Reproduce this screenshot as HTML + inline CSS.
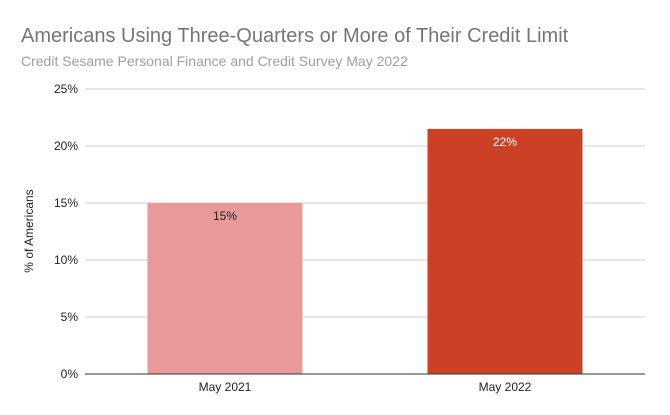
<!DOCTYPE html>
<html><head><meta charset="utf-8"><style>
body{margin:0;background:#fff;}
svg{display:block;font-family:"Liberation Sans",Arial,sans-serif;}
</style></head><body>
<svg id="chart" width="670" height="415">
<text x="21" y="42" font-size="20" fill="#757575">Americans Using Three-Quarters or More of Their Credit Limit</text>
<text x="21" y="66" font-size="14" fill="#9e9e9e">Credit Sesame Personal Finance and Credit Survey May 2022</text>
<text transform="translate(33,231) rotate(-90)" text-anchor="middle" font-size="12" fill="#222">% of Americans</text>
<g id="grid"></g><g id="bars"></g>
</svg>
<script>
const categories=["May 2021","May 2022"];
const values=[15,21.5];
const valueLabels=["15%","22%"];
const yTicks=[0,5,10,15,20,25];
const yTickLabels=["0%","5%","10%","15%","20%","25%"];
const colors=["#ea9999","#cc4125"];
const labelColors=["#222","#fff"];
const NS="http://www.w3.org/2000/svg";
const x0=85,x1=645,yb=374,yt=89,ymax=25;
const y=v=>yb-(v/ymax)*(yb-yt);
const band=(x1-x0)/categories.length;
const bw=155;
const grid=document.getElementById('grid'),bars=document.getElementById('bars');
function mk(t,a,p){const e=document.createElementNS(NS,t);for(const k in a)e.setAttribute(k,a[k]);p.appendChild(e);return e;}
yTicks.forEach((v,i)=>{
 const l=mk('line',{x1:x0,x2:x1,y1:y(v),y2:y(v),stroke:v===0?'#333':'#ccc','stroke-width':1},grid);
 
 
 const t=mk('text',{x:78,y:y(v)+4,'text-anchor':'end','font-size':12,fill:'#222'},grid);
 t.textContent=yTickLabels[i];
 
 
});
categories.forEach((c,i)=>{
 const cx=x0+band*(i+0.5);
 const r=mk('rect',{x:cx-bw/2,y:y(values[i]),width:bw,height:yb-y(values[i]),fill:colors[i]},bars);
 
 
 const t=mk('text',{x:cx,y:y(values[i])+17,'text-anchor':'middle','font-size':12,fill:labelColors[i]},bars);
 t.textContent=valueLabels[i];
 
 
 const xl=mk('text',{x:cx,y:yb+17,'text-anchor':'middle','font-size':12,fill:'#222'},bars);
 xl.textContent=c;
 
 
});
const ax=mk('line',{x1:x0,x2:x1,y1:yb,y2:yb,stroke:'#333','stroke-width':1},bars);


</script>
</body></html>
